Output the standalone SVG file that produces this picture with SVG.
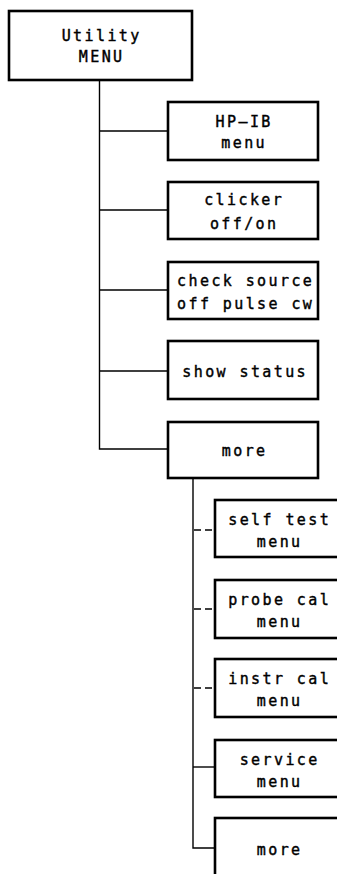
<svg xmlns="http://www.w3.org/2000/svg" width="337" height="874" viewBox="0 0 337 874">
<style>
.box{fill:#fff;stroke:#000;stroke-width:2.6}
.ln{fill:none;stroke:#000;stroke-width:1.4}
.dash{stroke-dasharray:7 4}
text{font-family:"DejaVu Sans Mono","Liberation Mono",monospace;font-size:15px;letter-spacing:2.4px;text-anchor:middle;fill:#000;stroke:#000;stroke-width:0.4}
</style>
<rect width="337" height="874" fill="#fff"/>
<g id="connectors">
<path class="ln" d="M99.5 80V449H168"/>
<path class="ln" d="M99.5 131H168M99.5 210H168M99.5 290H168M99.5 371H168"/>
<path class="ln" d="M193 478V848H215"/>
<path class="ln dash" d="M194 530H215M194 609H215M194 688H215"/>
<path class="ln" d="M193 767H215"/>
</g>
<g id="utility-menu"><rect class="box" x="9" y="11" width="183" height="69"/><text x="101.7" y="41">Utility</text><text x="101.7" y="62">MENU</text></g>
<g id="hpib-menu"><rect class="box" x="168" y="102" width="150" height="58"/><text x="244.2" y="127">HP–IB</text><text x="244.2" y="148">menu</text></g>
<g id="clicker"><rect class="box" x="168" y="182" width="150" height="57"/><text x="244.2" y="205">clicker</text><text x="244.2" y="229">off/on</text></g>
<g id="check-source"><rect class="box" x="168" y="262" width="150" height="57"/><text x="245.7" y="286">check source</text><text x="245.7" y="309">off pulse cw</text></g>
<g id="show-status"><rect class="box" x="168" y="341" width="150" height="58"/><text x="245.2" y="377">show status</text></g>
<g id="more-1"><rect class="box" x="168" y="422" width="150" height="56"/><text x="244.7" y="456">more</text></g>
<g id="self-test"><rect class="box" x="215" y="500" width="130" height="57"/><text x="279.7" y="525">self test</text><text x="279.7" y="547">menu</text></g>
<g id="probe-cal"><rect class="box" x="215" y="580" width="130" height="58"/><text x="279.7" y="605">probe cal</text><text x="279.7" y="627">menu</text></g>
<g id="instr-cal"><rect class="box" x="215" y="659" width="130" height="58"/><text x="279.7" y="684">instr cal</text><text x="279.7" y="706">menu</text></g>
<g id="service"><rect class="box" x="215" y="740" width="130" height="57"/><text x="279.7" y="765">service</text><text x="279.7" y="787">menu</text></g>
<g id="more-2"><rect class="box" x="215" y="818" width="130" height="70"/><text x="279.7" y="855">more</text></g>
</svg>
